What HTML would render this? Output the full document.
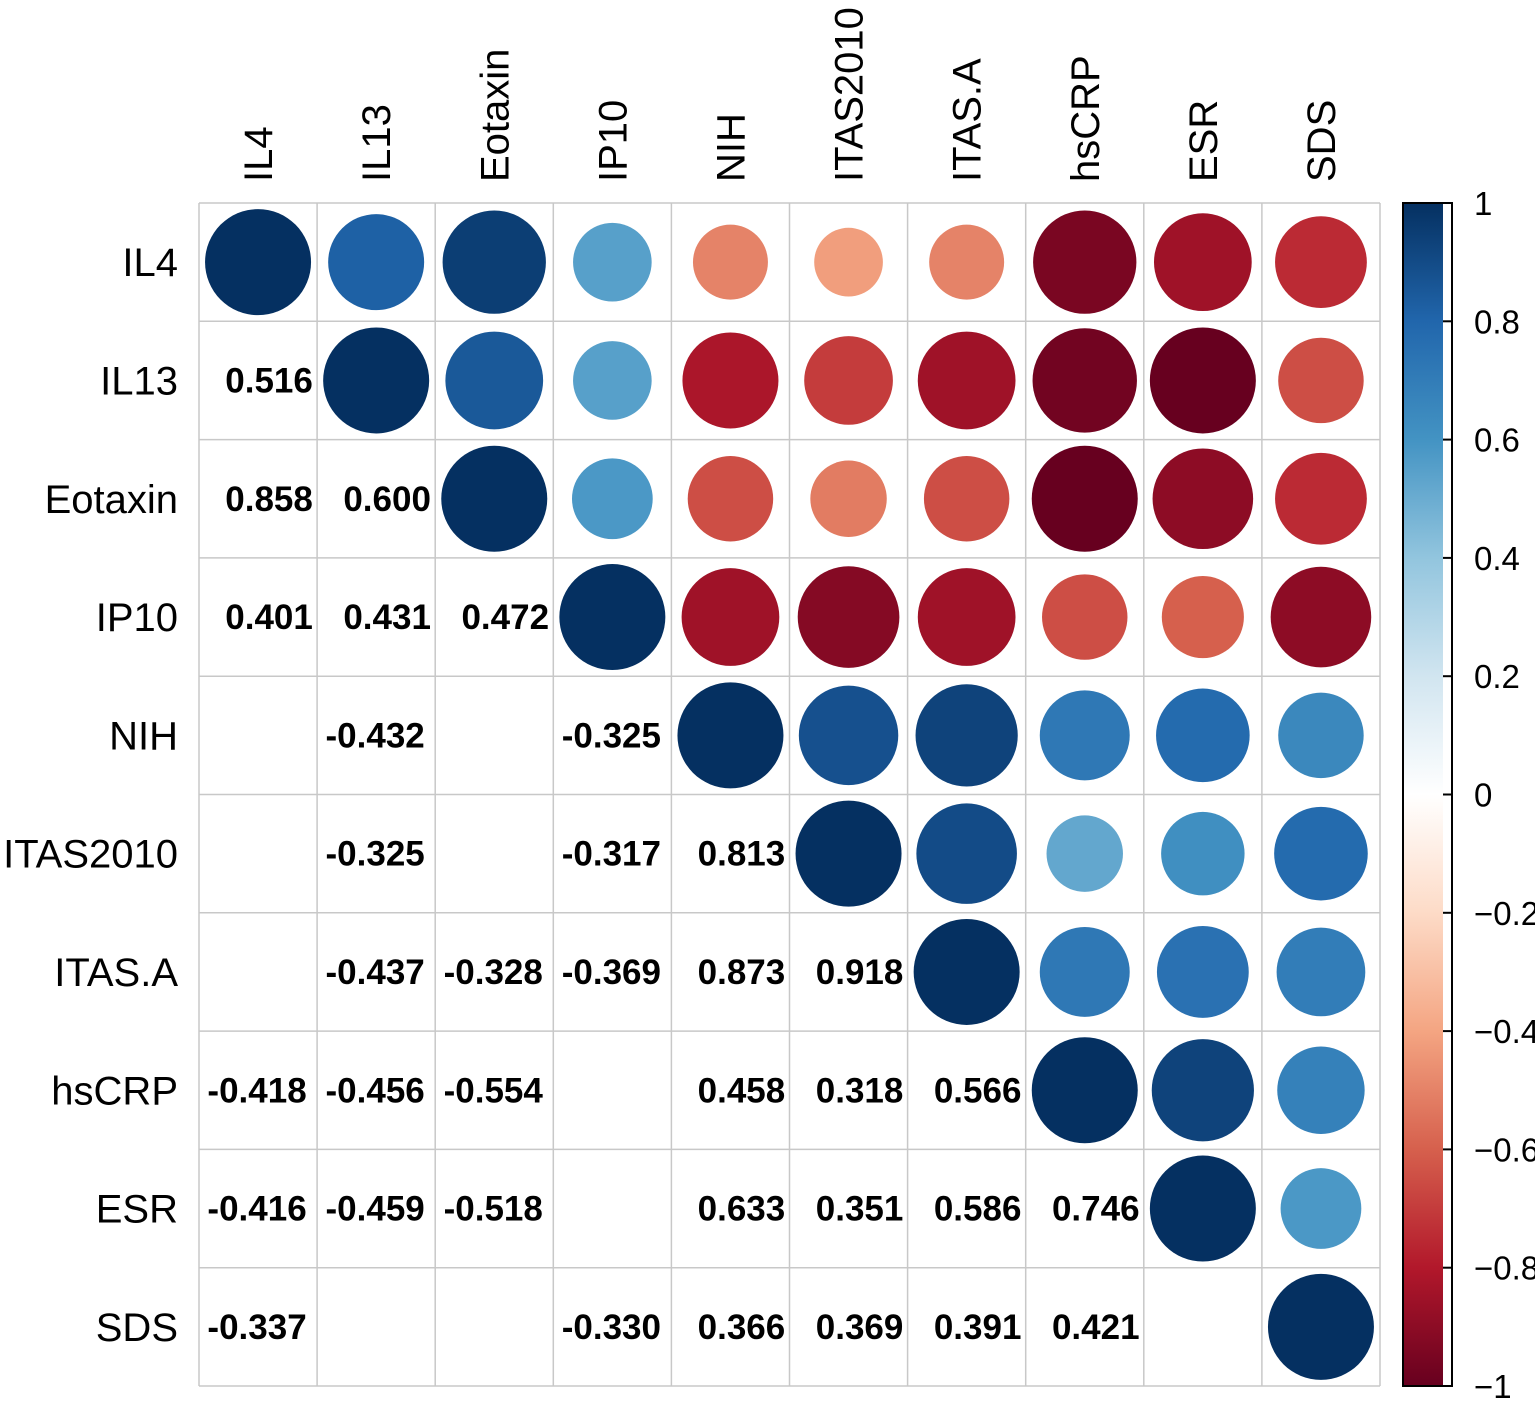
<!DOCTYPE html>
<html><head><meta charset="utf-8"><style>
body{margin:0;background:#fff;}
svg{display:block;font-family:"Liberation Sans",Arial,sans-serif;}
</style></head><body>
<svg id="chart" width="1535" height="1406" viewBox="0 0 1535 1406" xmlns="http://www.w3.org/2000/svg">
<defs>
<linearGradient id="cb" x1="0" y1="0" x2="0" y2="1">
<stop offset="0" stop-color="#053061"/><stop offset="0.1" stop-color="#2166AC"/><stop offset="0.2" stop-color="#4393C3"/><stop offset="0.3" stop-color="#92C5DE"/><stop offset="0.4" stop-color="#D1E5F0"/><stop offset="0.5" stop-color="#FFFFFF"/><stop offset="0.6" stop-color="#FDDBC7"/><stop offset="0.7" stop-color="#F4A582"/><stop offset="0.8" stop-color="#D6604D"/><stop offset="0.9" stop-color="#B2182B"/><stop offset="1" stop-color="#67001F"/>
</linearGradient>
</defs>
<g id="grid"></g><g id="marks"></g><g id="labels"></g>
<g id="colorbar">
<rect x="1403" y="203" width="40" height="1183" fill="url(#cb)"/>
<rect x="1403" y="203" width="49" height="1183" fill="none" stroke="#000" stroke-width="2"/>
</g>
</svg>
<script>
const vars = ["IL4","IL13","Eotaxin","IP10","NIH","ITAS2010","ITAS.A","hsCRP","ESR","SDS"];
// upper triangle (estimated) circle values, row-wise
const upper = [
 [1,0.82,0.95,0.55,-0.5,-0.42,-0.5,-0.95,-0.85,-0.75],
 [null,1,0.85,0.55,-0.82,-0.7,-0.85,-0.97,-1.0,-0.65],
 [null,null,1,0.58,-0.65,-0.52,-0.65,-1.0,-0.9,-0.75],
 [null,null,null,1,-0.85,-0.92,-0.85,-0.65,-0.6,-0.9],
 [null,null,null,null,1,0.88,0.93,0.72,0.78,0.65],
 [null,null,null,null,null,1,0.9,0.52,0.62,0.78],
 [null,null,null,null,null,null,1,0.72,0.75,0.7],
 [null,null,null,null,null,null,null,1,0.93,0.68],
 [null,null,null,null,null,null,null,null,1,0.58],
 [null,null,null,null,null,null,null,null,null,1]
];
// lower triangle printed values
const lower = [
 [],
 ["0.516"],
 ["0.858","0.600"],
 ["0.401","0.431","0.472"],
 ["","-0.432","","-0.325"],
 ["","-0.325","","-0.317","0.813"],
 ["","-0.437","-0.328","-0.369","0.873","0.918"],
 ["-0.418","-0.456","-0.554","","0.458","0.318","0.566"],
 ["-0.416","-0.459","-0.518","","0.633","0.351","0.586","0.746"],
 ["-0.337","","","-0.330","0.366","0.369","0.391","0.421",""]
];
const cbTicks = [1,0.8,0.6,0.4,0.2,0,-0.2,-0.4,-0.6,-0.8,-1];

const NS="http://www.w3.org/2000/svg";
const X0=199,Y0=203,CW=118.1,CH=118.3,N=vars.length;
const xc=i=>X0+CW*(i+0.5), yc=j=>Y0+CH*(j+0.5);
const cbY=v=>203+(1-v)/2*1183;
const pal=[[-1,[103,0,31]],[-0.8,[178,24,43]],[-0.6,[214,96,77]],[-0.4,[244,165,130]],[-0.2,[253,219,199]],[0,[255,255,255]],[0.2,[209,229,240]],[0.4,[146,197,222]],[0.6,[67,147,195]],[0.8,[33,102,172]],[1,[5,48,97]]];
function col(v){for(let k=0;k<pal.length-1;k++){const a=pal[k],b=pal[k+1];if(v<=b[0]){const t=(v-a[0])/(b[0]-a[0]);const c=a[1].map((x,i)=>Math.round(x+(b[1][i]-x)*t));return `rgb(${c})`;}}return "rgb(5,48,97)";}
function mk(tag,attrs,parent){const e=document.createElementNS(NS,tag);for(const k in attrs)e.setAttribute(k,attrs[k]);parent.appendChild(e);return e;}
const grid=document.getElementById('grid'),marks=document.getElementById('marks'),labels=document.getElementById('labels');
for(let k=0;k<=N;k++){
 mk('line',{x1:X0+CW*k,y1:Y0,x2:X0+CW*k,y2:Y0+CH*N,stroke:'#c8c8c8','stroke-width':1.5},grid);
 mk('line',{x1:X0,y1:Y0+CH*k,x2:X0+CW*N,y2:Y0+CH*k,stroke:'#c8c8c8','stroke-width':1.5},grid);
}
for(let j=0;j<N;j++){
 for(let i=j;i<N;i++){
  const v=upper[j][i];
  const c=mk('circle',{cx:xc(i),cy:yc(j),r:53*Math.sqrt(Math.abs(v)),fill:col(v)},marks);
  
  
 }
 for(let i=0;i<j;i++){
  const s=lower[j][i]; if(!s) continue;
  const off=s.charAt(0)==='-'?-1:11;
  const t=mk('text',{x:xc(i)+off,y:yc(j)+12,'text-anchor':'middle','font-size':35,'font-weight':'bold',fill:'#000'},marks);
  t.textContent=s;
  
  
 }
}
vars.forEach((n,i)=>{
 const r=mk('text',{x:178,y:yc(i)+14,'text-anchor':'end','font-size':40,fill:'#000'},labels);
 r.textContent=n;
 
 
 const c=mk('text',{x:0,y:0,'text-anchor':'start','font-size':40,fill:'#000',transform:`translate(${xc(i)+14},182) rotate(-90)`},labels);
 c.textContent=n;
 
 
});
const cb=document.getElementById('colorbar');
cbTicks.forEach(v=>{
 const y=cbY(v);
 if(v!==1&&v!==-1) mk('line',{x1:1443,y1:y,x2:1452,y2:y,stroke:'#000','stroke-width':2},cb);
 const t=mk('text',{x:1474,y:y+12,'font-size':33,fill:'#000'},cb);
 t.textContent=(v<0?'\u2212':'')+(Math.abs(v)===1||v===0?String(Math.abs(v)):Math.abs(v).toFixed(1));
 
 
});
</script>
</body></html>
